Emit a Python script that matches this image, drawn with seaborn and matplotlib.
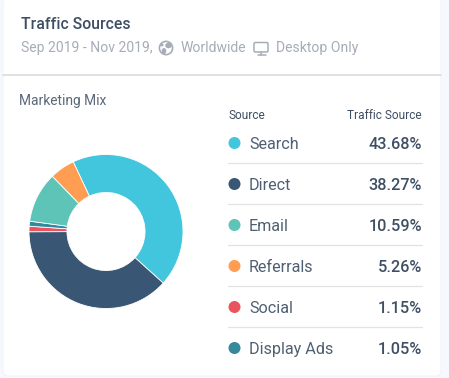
import matplotlib
matplotlib.use("Agg")
import matplotlib.pyplot as plt
from matplotlib.patches import FancyBboxPatch, Circle, Ellipse
import seaborn as sns

sources = ["Search", "Direct", "Email", "Referrals", "Social", "Display Ads"]
shares = [43.68, 38.27, 10.59, 5.26, 1.15, 1.05]
colors = ["#42C6DE", "#395774", "#5FC4B8", "#FF9D52", "#E9545F", "#34899C"]
pie_order = [0, 1, 4, 5, 2, 3]

sns.set_theme(style="white")
plt.rcParams["font.family"] = ["Roboto", "DejaVu Sans"]
sns.set_palette(colors)

W, H = 449, 378
fig = plt.figure(figsize=(W / 100, H / 100), dpi=100, facecolor="#F5F8FD")
bg = fig.add_axes([0, 0, 1, 1])
bg.set_xlim(0, W)
bg.set_ylim(H, 0)
bg.axis("off")

bg.add_patch(FancyBboxPatch((3, -3), 438, 379, boxstyle="round,pad=0,rounding_size=6",
                            fc="white", ec="#EEF1F6", lw=0.6))
bg.plot([3, 441], [75, 75], color="#DEE0E3", lw=1.4)

dark = "#3F4F63"
grey = "#A5ADB8"
bg.text(21, 24.5, "Traffic Sources", fontsize=11.3, fontweight="medium", color=dark, va="center")
bg.text(21, 48, "Sep 2019 - Nov 2019,", fontsize=10.05, color=grey, va="center")
bg.text(181, 48, "Worldwide", fontsize=10.05, color=grey, va="center")
bg.text(276, 48, "Desktop Only", fontsize=10.05, color=grey, va="center")

# globe icon
bg.add_patch(Circle((166, 48), 6.6, fc="white", ec=grey, lw=1.2))
bg.add_patch(Ellipse((168.5, 45.5), 6.5, 5.5, fc=grey, ec="none"))
bg.add_patch(Ellipse((164, 51), 4.5, 6, fc=grey, ec="none"))
bg.add_patch(Ellipse((162, 45), 3, 3, fc=grey, ec="none"))
# monitor icon
bg.add_patch(FancyBboxPatch((254, 42.5), 14, 9.5, boxstyle="round,pad=0,rounding_size=1.5",
                            fc="none", ec=grey, lw=1.1))
bg.plot([257.5, 265.5], [55, 55], color=grey, lw=1.1)
bg.plot([261, 261], [52, 55], color=grey, lw=1.1)

bg.text(19, 100.5, "Marketing Mix", fontsize=9.9, color="#5A6878", va="center")
bg.text(228.5, 115.5, "Source", fontsize=8.6, color=dark, va="center")
bg.text(421.5, 115.5, "Traffic Source", fontsize=8.6, color=dark, va="center", ha="right")

row_y = [143, 184, 225, 266, 307, 348]
for i, (name, val, c, y) in enumerate(zip(sources, shares, colors, row_y)):
    bg.add_patch(Circle((234.5, y), 6, fc=c, ec="none"))
    bg.text(249, y + 1.2, name, fontsize=11.6, color="#4F5F73", va="center")
    bg.text(422, y + 1.2, f"{val:.2f}%", fontsize=11.7, fontweight="medium", color=dark, va="center", ha="right")
    if i < 5:
        bg.plot([228, 421.5], [y + 20.4, y + 20.4], color="#E1E3E6", lw=0.9)

cx, cy, r = 106, 231.5, 77
pie_ax = fig.add_axes([(cx - r) / W, 1 - (cy + r) / H, 2 * r / W, 2 * r / H])
pie_ax.pie([shares[i] for i in pie_order], colors=[colors[i] for i in pie_order],
           startangle=115.2, counterclock=False, radius=1,
           wedgeprops=dict(width=0.493, edgecolor="white", linewidth=0.6))
pie_ax.set_xlim(-1, 1)
pie_ax.set_ylim(-1, 1)
pie_ax.set_aspect("equal")

fig.savefig("out.png", dpi=100, facecolor=fig.get_facecolor())
